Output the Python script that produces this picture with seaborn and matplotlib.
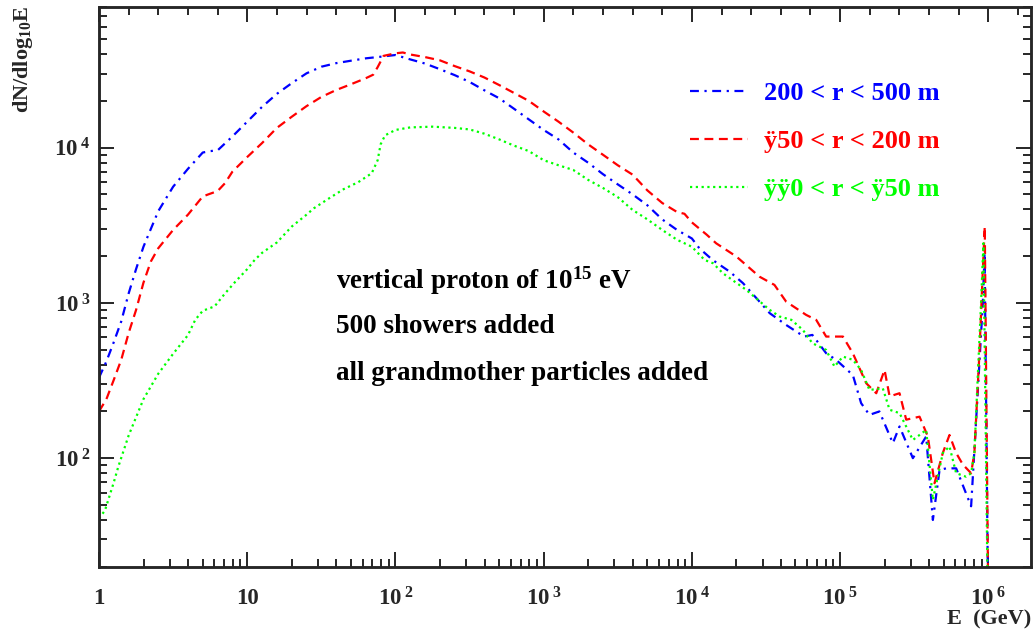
import numpy as np
import pandas as pd
import matplotlib
matplotlib.use("Agg")
import matplotlib.pyplot as plt
import seaborn as sns
from matplotlib.ticker import FixedLocator, MultipleLocator, FuncFormatter, NullFormatter

# ---------------- data ----------------
labels = ["200 < r < 500 m", "ÿ50 < r < 200 m", "ÿÿ0 < r < ÿ50 m"]
colors = ["#0000ff", "#ff0000", "#00ff00"]

# log10(E/GeV) positions and dN/dlog10E values
logE_blue = [0.0, 0.05, 0.1, 0.15, 0.2, 0.25, 0.3, 0.35, 0.4, 0.5, 0.6, 0.7, 0.75, 0.8,
             0.9, 1.0, 1.1, 1.2, 1.3, 1.4, 1.5, 1.6, 1.7, 1.8, 1.9, 2.0, 2.1, 2.2, 2.3, 2.4,
             2.5, 2.6, 2.7, 2.8, 2.9, 3.0, 3.1, 3.2, 3.3, 3.4, 3.5, 3.6, 3.7, 3.8, 3.9, 4.0,
             4.05, 4.14, 4.255, 4.345, 4.446, 4.525, 4.636, 4.757, 4.813, 4.906, 4.973,
             5.086, 5.142, 5.198, 5.265, 5.356, 5.401, 5.491, 5.581, 5.626, 5.671, 5.716,
             5.783, 5.884, 5.918, 5.963, 5.975, 6.01]
dn_blue = [330, 420, 560, 760, 1150, 1650, 2300, 3000, 3900, 5600, 7300, 9300, 9500, 9600,
           11800, 14700, 18300, 22200, 26000, 30100, 33200, 35000, 36300, 37600, 38500, 39500,
           37000, 34800, 32000, 29300, 26500, 23400, 20800, 17800, 15200, 13000, 11300, 9300,
           8000, 6750, 5800, 5000, 4250, 3450, 2950, 2600,
           2250, 1890, 1590, 1340, 1045, 859, 721, 607, 622, 474, 430,
           343, 226, 190, 200, 125, 160, 100, 138, 40, 84, 86, 86, 49, 177, 1000, 2100, 1]

logE_red = [0.0, 0.05, 0.1, 0.15, 0.2, 0.25, 0.3, 0.35, 0.4, 0.5, 0.6, 0.7, 0.75, 0.8, 0.85,
            0.9, 1.0, 1.1, 1.2, 1.3, 1.4, 1.5, 1.6, 1.7, 1.8, 1.85, 1.88, 1.92, 2.0, 2.05,
            2.1, 2.2, 2.3, 2.4, 2.5, 2.6, 2.7, 2.8, 2.9, 3.0, 3.1, 3.2, 3.3, 3.4, 3.5, 3.6,
            3.7, 3.8, 3.9, 3.95, 4.0, 4.1, 4.164, 4.3, 4.456, 4.557, 4.636, 4.771, 4.839,
            4.906, 5.019, 5.086, 5.176, 5.244, 5.3, 5.334, 5.401, 5.446, 5.536, 5.592, 5.637,
            5.693, 5.738, 5.783, 5.828, 5.884, 5.906, 5.94, 5.963, 5.976, 6.01]
dn_red = [200, 240, 320, 430, 640, 900, 1350, 1850, 2250, 2950, 3700, 4850, 5050, 5250, 5900,
          7000, 8700, 10700, 13400, 15800, 18500, 21200, 23500, 25600, 28000, 29500, 33000,
          39000, 40500, 41000, 39800, 38300, 36500, 33500, 31000, 28300, 25300, 22500, 20000,
          17100, 14700, 12500, 10500, 9000, 7700, 6700, 5300, 4400, 3850, 3750, 3300, 2750,
          2420, 1990, 1476, 1306, 1019, 837, 777, 607, 607, 474, 304, 262, 370, 250, 262, 177,
          185, 138, 69, 108, 141, 108, 91, 80, 108, 474, 1630, 3100, 1]

logE_green = [0.0, 0.04, 0.1, 0.13, 0.2, 0.3, 0.4, 0.5, 0.6, 0.65, 0.7, 0.78, 0.85, 0.92,
              1.0, 1.05, 1.1, 1.2, 1.3, 1.4, 1.45, 1.55, 1.65, 1.75, 1.84, 1.88, 1.9, 1.93,
              2.0, 2.1, 2.25, 2.4, 2.5, 2.6, 2.7, 2.8, 2.9, 3.0, 3.1, 3.2, 3.3, 3.4, 3.5, 3.6,
              3.7, 3.8, 3.9, 4.0, 4.086, 4.143, 4.21, 4.367, 4.525, 4.592, 4.671, 4.749, 4.813,
              4.906, 4.962, 5.019, 5.086, 5.142, 5.198, 5.288, 5.334, 5.401, 5.491, 5.581,
              5.626, 5.693, 5.738, 5.783, 5.85, 5.884, 5.906, 5.951, 5.967, 6.01]
dn_green = [41, 46, 70, 88, 140, 240, 350, 470, 620, 780, 890, 950, 1150, 1370,
            1650, 1890, 2100, 2450, 3100, 3700, 4070, 4700, 5400, 6000, 6840, 8300, 10500, 12000,
            13000, 13500, 13650, 13400, 13100, 12300, 11300, 10300, 9500, 8300, 7700, 7180, 6200,
            5500, 4800, 3970, 3450, 2950, 2550, 2300, 1890, 1800, 1550, 1213, 902, 817, 778, 670,
            550, 498, 389, 451, 430, 370, 275, 282, 205, 195, 131, 152, 54, 108, 119, 80, 76, 80,
            108, 1000, 2420, 1]

x_major = [1, 10, 100, 1000, 1e4, 1e5, 1e6]
y_major = [100, 1000, 10000]

annot_lines = [r"vertical proton of 10$^{15}$ eV", "500 showers added",
               "all grandmother particles added"]

# ---------------- styling ----------------
sns.set_style("white")
plt.rcParams.update({
    "font.family": ["Liberation Serif", "DejaVu Serif"],
    "font.weight": "bold",
    "mathtext.fontset": "custom",
    "mathtext.rm": "Liberation Serif:bold",
    "mathtext.bf": "Liberation Serif:bold",
    "mathtext.it": "Liberation Serif:bold:italic",
    "mathtext.default": "bf",
    "axes.linewidth": 1.8,
})

frames = []
for lab, lx, ly in zip(labels, [logE_blue, logE_red, logE_green], [dn_blue, dn_red, dn_green]):
    frames.append(pd.DataFrame({"E": 10.0 ** np.asarray(lx), "N": ly, "range": lab}))
df = pd.concat(frames, ignore_index=True)

fig = plt.figure(figsize=(10.34, 6.32), dpi=100)
ax = fig.add_axes([99 / 1034, (632 - 566.7) / 632, 932 / 1034, 559.7 / 632])

dash_styles = {labels[0]: (4, 2.5, 1, 2.5), labels[1]: (4, 2.5), labels[2]: (1, 1.6)}
sns.lineplot(data=df, x="E", y="N", hue="range", style="range",
             hue_order=labels, style_order=labels,
             palette=dict(zip(labels, colors)), dashes=dash_styles,
             estimator=None, sort=False, legend=False, linewidth=1.6, ax=ax)

ax.set_xscale("log")
ax.set_yscale("log")
xmax, ymin, ymax = 10 ** 6.288, 20, 8.05e4
ax.set_xlim(1, xmax)
ax.set_ylim(ymin, ymax)

x_minor = [m * d for d in [1, 10, 100, 1000, 1e4, 1e5, 1e6] for m in range(2, 10) if m * d < xmax]
y_minor = [m * d for d in [10, 100, 1000, 10000] for m in range(2, 10) if ymin <= m * d < ymax]
ax.xaxis.set_major_locator(FixedLocator(x_major))
ax.xaxis.set_minor_locator(FixedLocator(x_minor))
ax.yaxis.set_major_locator(FixedLocator(y_major))
ax.yaxis.set_minor_locator(FixedLocator(y_minor))


def xfmt(v, pos):
    e = int(round(np.log10(v)))
    if e == 0:
        return "1"
    if e == 1:
        return "10"
    return r"$10^{\;%d}$" % e


def yfmt(v, pos):
    e = int(round(np.log10(v)))
    return r"$10^{\;%d}$" % e


ax.xaxis.set_major_formatter(FuncFormatter(xfmt))
ax.xaxis.set_minor_formatter(NullFormatter())
ax.yaxis.set_major_formatter(FuncFormatter(yfmt))
ax.yaxis.set_minor_formatter(NullFormatter())

ax.tick_params(axis="x", which="both", direction="in", bottom=True, top=False,
               labelsize=16.5, pad=15)
ax.tick_params(axis="y", which="both", direction="in", left=True, right=True,
               labelsize=16.5, pad=6)
ax.tick_params(which="major", length=11, width=1.4)
ax.tick_params(which="minor", length=5.5, width=1.4)

# top axis: uniform ticks every 0.2 decade
tw = ax.twiny()
tw.set_xlim(0, 6.288)
tw.xaxis.set_major_locator(MultipleLocator(1))
tw.xaxis.set_minor_locator(MultipleLocator(0.2))
tw.tick_params(axis="x", which="both", direction="in", top=True, bottom=False,
               labeltop=False, labelbottom=False)
tw.tick_params(which="major", length=11, width=1.4)
tw.tick_params(which="minor", length=5.5, width=1.4)
for s in tw.spines.values():
    s.set_linewidth(1.8)

ax.set_xlabel("E  (GeV)", fontsize=16, fontweight="bold", loc="right")
ax.xaxis.set_label_coords(1.0, -0.077)
ax.set_ylabel(r"dN/dlog$_{10}$E", fontsize=16, fontweight="bold", loc="top")
ax.yaxis.set_label_coords(-0.0687, 1.002)

for txt, yy in zip(annot_lines, [0.496, 0.417, 0.3336]):
    ax.text(0.254, yy, txt, transform=ax.transAxes, fontsize=19.5,
            fontweight="bold", va="baseline", ha="left", color="black")

handles = ax.get_lines()[:3]
ax.legend(handles, labels, loc="upper left", bbox_to_anchor=(690 / 1034, 1 - 82 / 632),
          bbox_transform=fig.transFigure, frameon=False,
          prop={"size": 19, "weight": "bold"}, handlelength=2.2, handletextpad=0.6,
          labelspacing=0.92, borderpad=0, borderaxespad=0, labelcolor="linecolor")

fig.savefig("out.png", dpi=100)
